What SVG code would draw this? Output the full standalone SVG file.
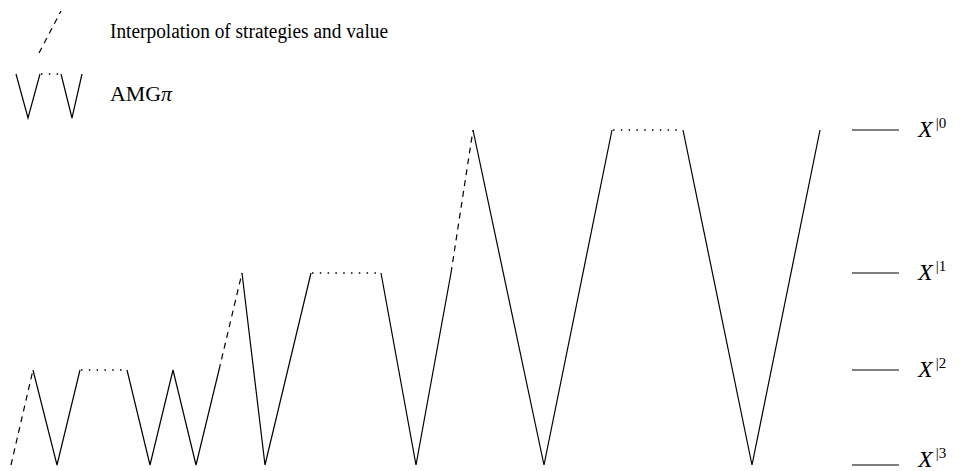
<svg xmlns="http://www.w3.org/2000/svg" width="965" height="471" viewBox="0 0 965 471">
<style>
.s{fill:none;stroke:#000;stroke-width:1.2;stroke-linejoin:miter}
.d{fill:none;stroke:#000;stroke-width:1.2;stroke-dasharray:6 5}
.o{fill:none;stroke:#000;stroke-width:1.3;stroke-dasharray:1.5 6.3}
.t{font-family:"Liberation Serif","DejaVu Serif",serif;font-size:20.5px;fill:#000}
.x{font-family:"Liberation Serif","DejaVu Serif",serif;font-style:italic;font-size:24px;fill:#000}
.sup{font-family:"Liberation Serif","DejaVu Serif",serif;font-style:normal;font-size:15px}
</style>
<rect width="965" height="471" fill="#fff"/>
<g id="legend">
  <g id="legend-interp">
    <line class="d" x1="39" y1="53" x2="61" y2="11"/>
    <text class="t" x="110" y="38" textLength="278" lengthAdjust="spacingAndGlyphs">Interpolation of strategies and value</text>
  </g>
  <g id="legend-amg">
    <polyline class="s" points="16,74 28,118 40,74"/>
    <line class="o" x1="41" y1="74" x2="62" y2="74"/>
    <polyline class="s" points="61,74 72,118 82,74"/>
    <text class="t" x="110" y="101" textLength="62" lengthAdjust="spacingAndGlyphs">AMG<tspan font-style="italic">π</tspan></text>
  </g>
</g>
<g id="levels">
  <g id="level0"><line class="s" x1="852" y1="130" x2="899" y2="130"/><text class="x" x="918" y="137">X<tspan class="sup" dx="3" dy="-9">|0</tspan></text></g>
  <g id="level1"><line class="s" x1="852" y1="273" x2="899" y2="273"/><text class="x" x="918" y="280">X<tspan class="sup" dx="3" dy="-9">|1</tspan></text></g>
  <g id="level2"><line class="s" x1="852" y1="370" x2="899" y2="370"/><text class="x" x="918" y="377">X<tspan class="sup" dx="3" dy="-9">|2</tspan></text></g>
  <g id="level3"><line class="s" x1="852" y1="465" x2="899" y2="465"/><text class="x" x="918" y="467">X<tspan class="sup" dx="3" dy="-9">|3</tspan></text></g>
</g>
<g id="connectors">
  <line class="d" x1="11" y1="465" x2="33" y2="370"/>
  <polyline class="s" points="33,370 57,465 80,370"/>
  <line class="o" x1="81" y1="370" x2="127" y2="370"/>
  <polyline class="s" points="127,370 150,465 173,370 196,465 219,370"/>
  <line class="d" x1="219" y1="370" x2="242" y2="273"/>
  <polyline class="s" points="242,273 265,465 311,273"/>
  <line class="o" x1="312" y1="273" x2="381" y2="273"/>
  <polyline class="s" points="381,273 416,465 451,273"/>
  <line class="d" x1="451" y1="273" x2="473" y2="130"/>
  <polyline class="s" points="473,130 544,465 612,130"/>
  <line class="o" x1="613" y1="130" x2="683" y2="130"/>
  <polyline class="s" points="683,130 752,465 820,130"/>
</g>
</svg>
